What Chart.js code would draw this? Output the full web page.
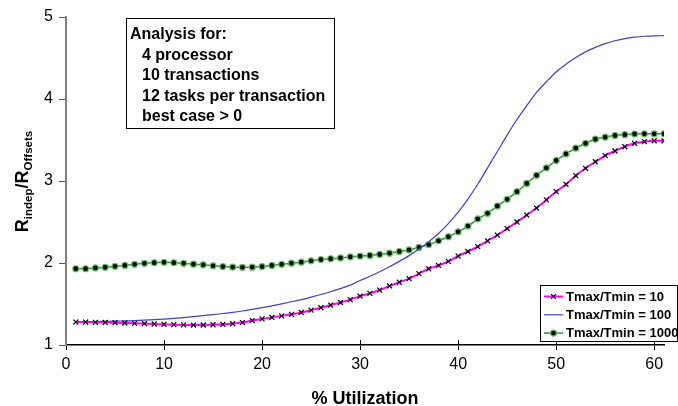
<!DOCTYPE html>
<html>
<head>
<meta charset="utf-8">
<script src="https://cdn.jsdelivr.net/npm/chart.js@4/dist/chart.umd.min.js"></script>
<style>
  html, body { margin: 0; padding: 0; background: #fff; }
  canvas { display: block; }
</style>
</head>
<body>
<canvas id="chart" width="678" height="406"></canvas>
<script>
// utilization steps (x axis)
const utilization = [1, 2, 3, 4, 5, 6, 7, 8, 9, 10, 11, 12, 13, 14, 15, 16, 17, 18, 19, 20,
  21, 22, 23, 24, 25, 26, 27, 28, 29, 30, 31, 32, 33, 34, 35, 36, 37, 38, 39, 40,
  41, 42, 43, 44, 45, 46, 47, 48, 49, 50, 51, 52, 53, 54, 55, 56, 57, 58, 59, 60, 61]

const seriesLabels = ["Tmax/Tmin = 10", "Tmax/Tmin = 100", "Tmax/Tmin = 1000"]

// R_indep / R_Offsets
const ratio10 = [1.28, 1.28, 1.277, 1.275, 1.272, 1.268, 1.264, 1.26, 1.256, 1.252,
  1.248, 1.245, 1.243, 1.244, 1.247, 1.252, 1.26, 1.274, 1.298, 1.318,
  1.337, 1.355, 1.374, 1.397, 1.425, 1.455, 1.487, 1.518, 1.553, 1.595,
  1.63, 1.67, 1.72, 1.765, 1.81, 1.87, 1.93, 1.97, 2.02, 2.085,
  2.14, 2.2, 2.27, 2.34, 2.42, 2.5, 2.585, 2.67, 2.77, 2.87,
  2.96, 3.065, 3.155, 3.235, 3.31, 3.366, 3.42, 3.46, 3.48, 3.49, 3.49]

const ratio100 = [1.285, 1.285, 1.286, 1.288, 1.29, 1.294, 1.298, 1.303, 1.309, 1.316,
  1.325, 1.335, 1.346, 1.358, 1.371, 1.384, 1.398, 1.415, 1.435, 1.455,
  1.478, 1.502, 1.527, 1.554, 1.584, 1.616, 1.65, 1.688, 1.73, 1.786,
  1.838, 1.894, 1.955, 2.02, 2.09, 2.17, 2.26, 2.36, 2.48, 2.62,
  2.78, 2.96, 3.16, 3.36, 3.56, 3.75, 3.92, 4.08, 4.21, 4.33,
  4.425, 4.505, 4.575, 4.63, 4.675, 4.71, 4.737, 4.755, 4.765, 4.77, 4.772]

const ratio1000 = [1.93, 1.93, 1.94, 1.948, 1.96, 1.97, 1.984, 1.996, 2.003, 2.008,
  2.003, 1.996, 1.986, 1.978, 1.966, 1.957, 1.95, 1.947, 1.949, 1.957,
  1.97, 1.984, 1.998, 2.01, 2.026, 2.042, 2.052, 2.062, 2.075, 2.085,
  2.092, 2.105, 2.12, 2.14, 2.16, 2.19, 2.225, 2.27, 2.32, 2.38,
  2.45, 2.537, 2.606, 2.695, 2.777, 2.87, 2.97, 3.07, 3.16, 3.25,
  3.33, 3.4, 3.46, 3.51, 3.535, 3.555, 3.565, 3.573, 3.575, 3.575, 3.575]

const xTicks = [0, 10, 20, 30, 40, 50, 60]
const yTicks = [1, 2, 3, 4, 5]

const noteLines = ["Analysis for:", "4 processor", "10 transactions", "12 tasks per transaction", "best case > 0"]

const FONT = "'Liberation Sans', Arial, sans-serif"

const toPoints = (ys) => ys.map((y, i) => ({ x: utilization[i], y }))

// text, legend box, inner half of the x ticks, axis titles
const decor = {
  id: "decor",
  afterDraw(chart) {
    const { ctx, scales } = chart
    const xs = scales.x
    const bottom = chart.chartArea.bottom

    ctx.save()
    // x ticks cross the axis line
    ctx.strokeStyle = "#000"
    ctx.lineWidth = 1
    xTicks.forEach(v => {
      if (v === 0) return
      const px = Math.round(xs.getPixelForValue(v)) + 0.5
      ctx.beginPath()
      ctx.moveTo(px, bottom)
      ctx.lineTo(px, bottom - 5)
      ctx.stroke()
    })

    // annotation box
    ctx.fillStyle = "#fff"
    ctx.fillRect(126.5, 18.5, 208, 110)
    ctx.strokeStyle = "#000"
    ctx.strokeRect(126.5, 18.5, 208, 110)
    ctx.fillStyle = "#000"
    ctx.font = `bold 16px ${FONT}`
    ctx.textBaseline = "alphabetic"
    ctx.textAlign = "left"
    noteLines.forEach((t, i) => {
      ctx.fillText(t, i === 0 ? 130 : 142, 39 + i * 20.5)
    })

    // legend
    const lx = 540.5, ly = 285.5
    ctx.fillStyle = "#fff"
    ctx.fillRect(lx, ly, 137, 56)
    ctx.strokeStyle = "#000"
    ctx.strokeRect(lx, ly, 137, 56)
    ctx.font = `bold 13px ${FONT}`
    ctx.textBaseline = "middle"
    chart.data.datasets.forEach((ds, i) => {
      const y = 296.5 + i * 18.3
      ctx.strokeStyle = ds.borderColor
      ctx.lineWidth = ds.borderWidth
      ctx.beginPath()
      ctx.moveTo(544, y)
      ctx.lineTo(563, y)
      ctx.stroke()
      if (ds.pointRadius > 0) {
        ctx.fillStyle = ds.pointBackgroundColor
        ctx.strokeStyle = ds.pointBorderColor
        ctx.lineWidth = ds.pointBorderWidth
        ctx.beginPath()
        if (ds.pointStyle === "circle") {
          ctx.arc(553.5, y, ds.pointRadius, 0, Math.PI * 2)
          ctx.fill()
          ctx.stroke()
        } else {
          const r = ds.pointRadius * 0.7
          ctx.moveTo(553.5 - r, y - r); ctx.lineTo(553.5 + r, y + r)
          ctx.moveTo(553.5 - r, y + r); ctx.lineTo(553.5 + r, y - r)
          ctx.stroke()
        }
      }
      ctx.fillStyle = "#000"
      ctx.fillText(ds.label, 566, y + 0.5)
    })

    // x title
    ctx.font = `bold 18px ${FONT}`
    ctx.textAlign = "center"
    ctx.textBaseline = "alphabetic"
    ctx.fillText("% Utilization", 365, 404)

    // y title with subscripts, rotated
    const parts = [
      ["R", 18, 0], ["indep", 11.5, 4], ["/R", 18, 0], ["Offsets", 11.5, 4],
    ]
    let total = 0
    parts.forEach(p => {
      ctx.font = `bold ${p[1]}px ${FONT}`
      total += ctx.measureText(p[0]).width
    })
    ctx.translate(28, 181.5 + total / 2)
    ctx.rotate(-Math.PI / 2)
    ctx.textAlign = "left"
    let cx = 0
    parts.forEach(p => {
      ctx.font = `bold ${p[1]}px ${FONT}`
      ctx.fillText(p[0], cx, p[2])
      cx += ctx.measureText(p[0]).width
    })
    ctx.restore()
  },
}

new Chart(document.getElementById("chart"), {
  type: "line",
  data: {
    datasets: [
      {
        label: seriesLabels[0],
        data: toPoints(ratio10),
        borderColor: "#ff00ff",
        borderWidth: 2,
        pointStyle: "crossRot",
        pointRadius: 3.5,
        pointBorderColor: "#000",
        pointBackgroundColor: "#000",
        pointBorderWidth: 1.2,
        cubicInterpolationMode: "monotone",
      },
      {
        label: seriesLabels[1],
        data: toPoints(ratio100),
        borderColor: "#4040cc",
        borderWidth: 1.2,
        pointRadius: 0,
        cubicInterpolationMode: "monotone",
      },
      {
        label: seriesLabels[2],
        data: toPoints(ratio1000),
        borderColor: "#2f962f",
        borderWidth: 1.5,
        pointStyle: "circle",
        pointRadius: 3,
        pointBorderColor: "#5fc45f",
        pointBackgroundColor: "#000",
        pointBorderWidth: 1.2,
        cubicInterpolationMode: "monotone",
      },
    ],
  },
  options: {
    responsive: false,
    animation: false,
    events: [],
    layout: { padding: { top: 17, right: 14, left: 0, bottom: 0 } },
    plugins: {
      legend: { display: false },
      tooltip: { enabled: false },
    },
    scales: {
      x: {
        type: "linear",
        min: 0,
        max: 61,
        afterFit: (s) => { s.height = 61 },
        afterBuildTicks: (s) => { s.ticks = xTicks.map(v => ({ value: v })) },
        ticks: {
          stepSize: 10,
          includeBounds: false,
          color: "#000",
          font: { family: FONT, size: 16 },
          padding: 5,
          maxRotation: 0,
        },
        grid: { drawOnChartArea: false, tickLength: 5, color: "#000", lineWidth: 1 },
        border: { color: "#000", width: 1.5 },
      },
      y: {
        min: 1,
        max: 5,
        afterFit: (s) => { s.width = 66 },
        afterBuildTicks: (s) => { s.ticks = yTicks.map(v => ({ value: v })) },
        ticks: {
          stepSize: 1,
          color: "#000",
          font: { family: FONT, size: 16 },
          padding: 6,
        },
        grid: { drawOnChartArea: false, tickLength: 7, color: "#555", lineWidth: 1 },
        border: { color: "#808080", width: 2 },
      },
    },
  },
  plugins: [decor],
})
</script>
</body>
</html>
